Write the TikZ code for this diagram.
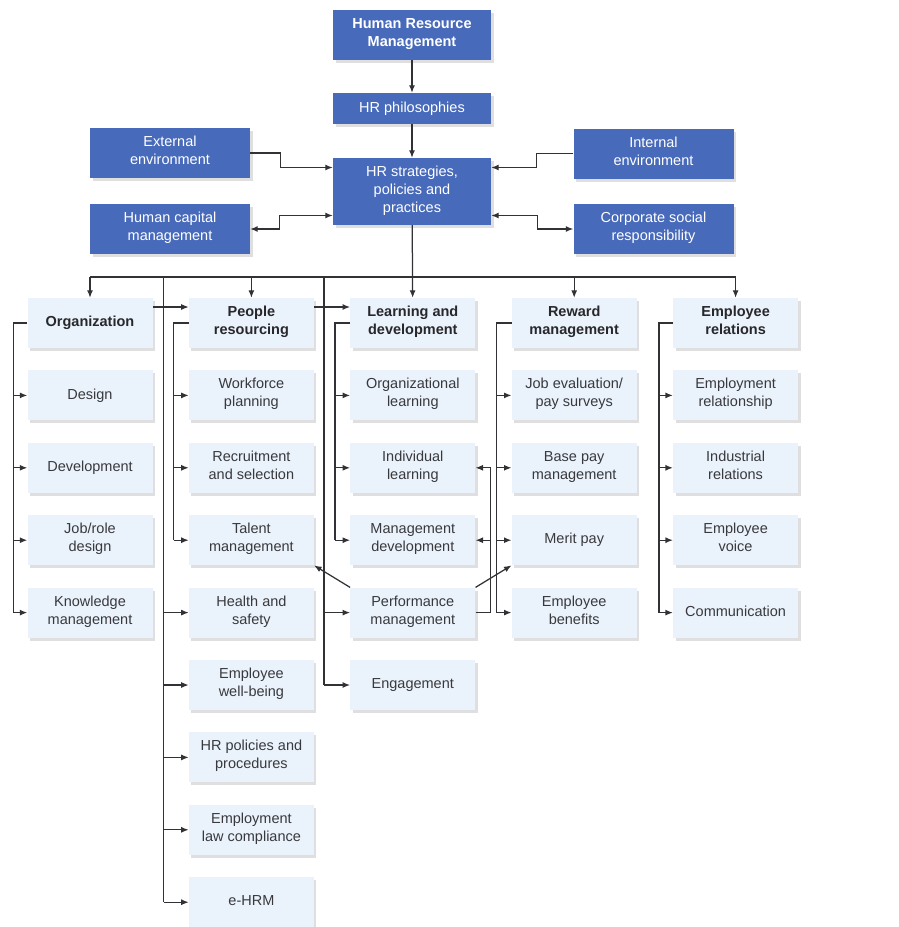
\documentclass[tikz,border=0pt]{standalone}
\usepackage{fontspec}
\setmainfont{Liberation Sans}
\usepackage{xcolor}
\usetikzlibrary{arrows.meta, positioning, shadows, calc}
\definecolor{hrFill}{RGB}{72,106,186}
\definecolor{topicFill}{RGB}{234,243,251}
\definecolor{ink}{RGB}{40,40,44}
\definecolor{lineGray}{RGB}{50,50,54}
\tikzset{
  nodebox/.style={
    align=center,
    minimum height=50pt,
    inner xsep=3pt,
    inner ysep=2pt,
    font=\fontsize{14.5}{18}\selectfont,
    execute at begin node={\strut},
    execute at end node={\strut},
    drop shadow={shadow xshift=2.5pt, shadow yshift=-3pt, opacity=.25}
  },
  hrNode/.style={nodebox, fill=hrFill, text=white, minimum width=158pt},
  sideNode/.style={hrNode, minimum width=160pt},
  headNode/.style={nodebox, fill=topicFill, text=ink, font=\fontsize{14.5}{18}\selectfont\bfseries, minimum width=125pt},
  itemNode/.style={nodebox, fill=topicFill, text=ink!92, minimum width=125pt},
  wire/.style={line width=1.25pt, draw=lineGray},
  link/.style={wire, -{Latex[length=7.5pt,width=6pt]}},
  twoWay/.style={wire, {Latex[length=7.5pt,width=6pt]}-{Latex[length=7.5pt,width=6pt]}}
}

\begin{document}
\begin{tikzpicture}[x=1pt, y=-1pt, node distance=22pt and 36pt]
  \useasboundingbox (0,0) rectangle (898,927);

  % top of the chart
  \node[hrNode, font=\fontsize{14.5}{18}\selectfont\bfseries] (hrm) at (412,35) {Human Resource\\Management};
  \node[hrNode, minimum height=31pt] (phil) at (412,108.5) {HR philosophies};
  \node[hrNode, minimum height=67pt] (strat) at (412,191.5) {HR strategies,\\policies and\\practices};
  \node[sideNode] (ext) at (170,153) {External\\environment};
  \node[sideNode] (hcm) at (170,229) {Human capital\\management};
  \node[sideNode] (int) at (653.5,153.5) {Internal\\environment};
  \node[sideNode] (csr) at (653.5,229) {Corporate social\\responsibility};

  % column heads
  \node[headNode] (org) at (90,323) {Organization};
  \node[headNode, right=of org] (res) {People\\resourcing};
  \node[headNode, right=of res] (lnd) {Learning and\\development};
  \node[headNode, right=of lnd] (rwd) {Reward\\management};
  \node[headNode, right=of rwd] (emp) {Employee\\relations};

  % organization
  \node[itemNode, below=of org] (design) {Design};
  \node[itemNode, below=of design] (devel) {Development};
  \node[itemNode, below=of devel] (jobrole) {Job/role\\design};
  \node[itemNode, below=of jobrole] (knowledge) {Knowledge\\management};

  % people resourcing
  \node[itemNode, below=of res] (wfp) {Workforce\\planning};
  \node[itemNode, below=of wfp] (recruit) {Recruitment\\and selection};
  \node[itemNode, below=of recruit] (talent) {Talent\\management};
  \node[itemNode, below=of talent] (health) {Health and\\safety};
  \node[itemNode, below=of health] (wellb) {Employee\\well-being};
  \node[itemNode, below=of wellb] (policy) {HR policies and\\procedures};
  \node[itemNode, below=of policy] (law) {Employment\\law compliance};
  \node[itemNode, below=of law] (ehrm) {e-HRM};

  % learning and development
  \node[itemNode, below=of lnd] (orglearn) {Organizational\\learning};
  \node[itemNode, below=of orglearn] (indiv) {Individual\\learning};
  \node[itemNode, below=of indiv] (mgmtdev) {Management\\development};
  \node[itemNode, below=of mgmtdev] (perf) {Performance\\management};
  \node[itemNode, below=of perf] (engage) {Engagement};

  % reward management
  \node[itemNode, below=of rwd] (jobeval) {Job evaluation/\\pay surveys};
  \node[itemNode, below=of jobeval] (basepay) {Base pay\\management};
  \node[itemNode, below=of basepay] (merit) {Merit pay};
  \node[itemNode, below=of merit] (benefits) {Employee\\benefits};

  % employee relations
  \node[itemNode, below=of emp] (emprel) {Employment\\relationship};
  \node[itemNode, below=of emprel] (indrel) {Industrial\\relations};
  \node[itemNode, below=of indrel] (voice) {Employee\\voice};
  \node[itemNode, below=of voice] (comm) {Communication};

  % links at the top
  \draw[link] (hrm) -- (phil);
  \draw[link] (phil) -- (strat);
  \draw[link] (ext.east) -- ++(30,0) |- ([yshift=24pt]strat.west);
  \draw[twoWay] ([yshift=-24pt]strat.west) -- ++(-53,0) |- (hcm.east);
  \draw[link] (int.west) -- ++(-37,0) |- ([yshift=24pt]strat.east);
  \draw[twoWay] ([yshift=-24pt]strat.east) -- ++(46,0) |- (csr.west);

  % bus to the columns
  \coordinate (bus) at (0,277);
  \draw[wire] (org |- bus) -- (emp |- bus);
  \draw[link] (strat) -- (lnd);
  \foreach \n in {org, res, rwd, emp}
    \draw[link] (\n |- bus) -- (\n.north);
  \draw[link] ([yshift=16pt]org.east) -- ([yshift=16pt]res.west);
  \draw[link] ([yshift=16pt]res.east) -- ([yshift=16pt]lnd.west);

  \coordinate (resBus) at ($(res.west |- bus)+(-25,0)$);
  \draw[wire] (resBus) -- (resBus |- ehrm);
  \foreach \n in {health, wellb, policy, law, ehrm}
    \draw[link] (resBus |- \n) -- (\n.west);

  \coordinate (lndBus) at ($(lnd.west |- bus)+(-26,0)$);
  \draw[wire] (lndBus) -- (lndBus |- engage);
  \foreach \n in {perf, engage}
    \draw[link] (lndBus |- \n) -- (\n.west);

  % column lines
  \draw[wire] (org.west) -- ++(-14,0) coordinate (orgLine) -- (orgLine |- knowledge);
  \foreach \n in {design, devel, jobrole, knowledge}
    \draw[link] (orgLine |- \n) -- (\n.west);
  \draw[wire] (res.west) -- ++(-15,0) coordinate (resLine) -- (resLine |- talent);
  \foreach \n in {wfp, recruit, talent}
    \draw[link] (resLine |- \n) -- (\n.west);
  \draw[wire] (lnd.west) -- ++(-15,0) coordinate (lndLine) -- (lndLine |- mgmtdev);
  \foreach \n in {orglearn, indiv, mgmtdev}
    \draw[link] (lndLine |- \n) -- (\n.west);
  \draw[wire] (rwd.west) -- ++(-15,0) coordinate (rwdLine) -- (rwdLine |- benefits);
  \foreach \n in {jobeval, basepay, merit, benefits}
    \draw[link] (rwdLine |- \n) -- (\n.west);
  \draw[wire] (emp.west) -- ++(-14,0) coordinate (empLine) -- (empLine |- comm);
  \foreach \n in {emprel, indrel, voice, comm}
    \draw[link] (empLine |- \n) -- (\n.west);

  % performance management feeds
  \draw[wire] (perf.east) -- ++(15,0) coordinate (perfLine) -- (perfLine |- indiv);
  \draw[link] (perfLine |- indiv) -- (indiv.east);
  \draw[link] (perfLine |- mgmtdev) -- (mgmtdev.east);
  \draw[link] (perf.north west) -- (talent.south east);
  \draw[link] (perf.north east) -- (merit.south west);
\end{tikzpicture}
\end{document}
